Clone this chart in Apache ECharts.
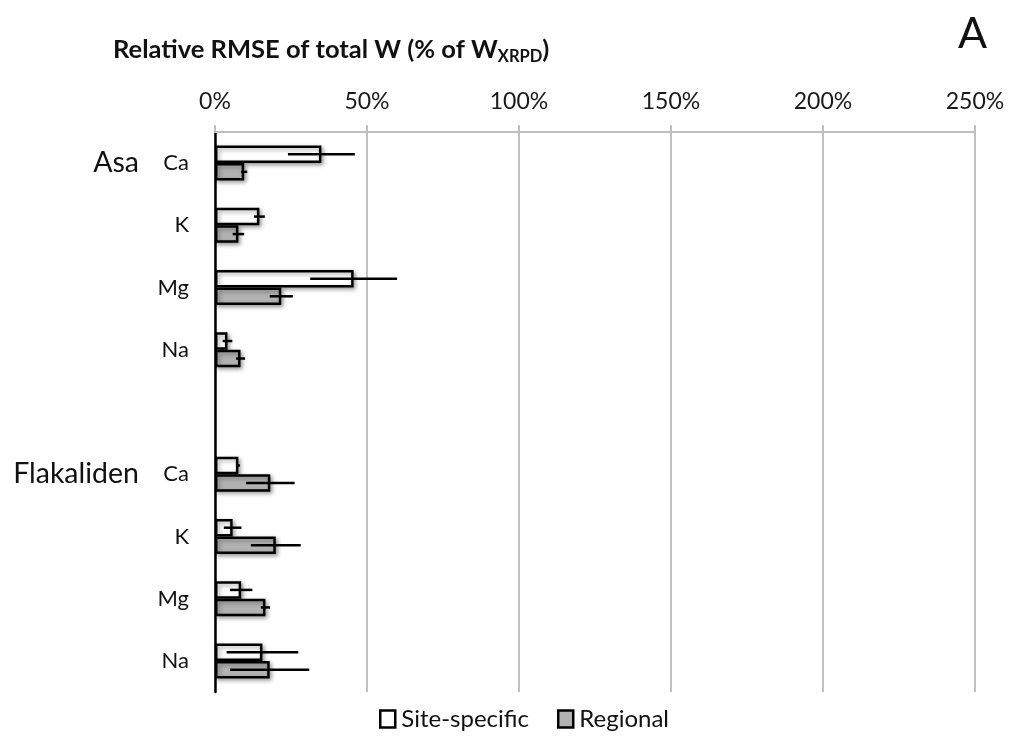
<!DOCTYPE html>
<html>
<head>
<meta charset="utf-8">
<script src="https://cdn.jsdelivr.net/npm/echarts@6/dist/echarts.min.js"></script>
<style>
html,body{margin:0;padding:0;background:#fff;}
#c{width:1009px;height:738px;}
</style>
</head>
<body>
<div id="c"></div>
<script>
// ---- data ----
var categories = ['Asa|Ca','Asa|K','Asa|Mg','Asa|Na','gap','Flakaliden|Ca','Flakaliden|K','Flakaliden|Mg','Flakaliden|Na'];
var groupStarts = ['Asa|Ca','Flakaliden|Ca'];
var siteSpecific = [35, 14.6, 45.6, 4.1, null, 7.7, 5.8, 8.6, 15.6];
var siteSpecificErr = [11, 1.8, 14.3, 1.6, null, 0.5, 2.9, 3.7, 11.8];
var regional = [9.6, 7.7, 21.8, 8.4, null, 18.2, 20, 16.6, 18];
var regionalErr = [1, 1.9, 3.8, 1.5, null, 8, 8.2, 1.5, 13];
var xTicks = [0, 50, 100, 150, 200, 250];
var seriesNames = ['Site-specific', 'Regional'];

var FONT = 'Lato, "Open Sans", sans-serif';
var BAR_W = 17.5;

function errData(vals, errs) {
  var out = [];
  for (var i = 0; i < vals.length; i++) {
    if (vals[i] == null) continue;
    out.push([i, vals[i] - errs[i], vals[i] + errs[i]]);
  }
  return out;
}

function errRender(offsetSign) {
  return function (params, api) {
    var idx = api.value(0);
    var lo = api.coord([api.value(1), idx]);
    var hi = api.coord([api.value(2), idx]);
    var dy = offsetSign * BAR_W / 2;
    return {
      type: 'line',
      shape: { x1: lo[0], y1: lo[1] + dy, x2: hi[0], y2: hi[1] + dy },
      style: { stroke: '#000', lineWidth: 2.5 },
      z2: 10
    };
  };
}

var chart = echarts.init(document.getElementById('c'), null, { renderer: 'canvas' });
var option = {
  animation: false,
  backgroundColor: '#fff',
  textStyle: { fontFamily: FONT },
  title: [{
    text: 'Relative RMSE of total W (% of W{sub|XRPD})',
    left: 108, top: 29,
    textStyle: {
      fontFamily: FONT, fontSize: 25.5, fontWeight: 'bold', color: '#111',
      rich: { sub: { fontFamily: FONT, fontSize: 16.5, fontWeight: 'bold', color: '#111', verticalAlign: 'bottom', padding: [14, 0, 0, 0] } }
    }
  }, {
    text: 'A',
    left: 953, top: 8,
    textStyle: { fontFamily: FONT, fontSize: 43, fontWeight: 'normal', color: '#111' }
  }],
  legend: {
    bottom: 2,
    left: 374,
    itemWidth: 15, itemHeight: 17, itemGap: 28,
    textStyle: { fontFamily: FONT, fontSize: 24, color: '#111', padding: [0, 0, 0, 1] },
    data: [
      { name: seriesNames[0], icon: 'rect', itemStyle: { color: '#fff', borderColor: '#000', borderWidth: 2.5 } },
      { name: seriesNames[1], icon: 'rect', itemStyle: { color: '#b2b2b2', borderColor: '#000', borderWidth: 2.5 } }
    ]
  },
  grid: { left: 215, right: 34, top: 132, bottom: 46, containLabel: false },
  xAxis: {
    type: 'value',
    position: 'top',
    min: xTicks[0], max: xTicks[xTicks.length - 1], interval: 50,
    axisLine: { show: true, lineStyle: { color: '#bfbfbf', width: 2 } },
    axisTick: { show: true, length: 7, lineStyle: { color: '#bfbfbf', width: 2 } },
    splitLine: { show: true, lineStyle: { color: '#c0c0c0', width: 2 } },
    axisLabel: { formatter: '{value}%', fontFamily: FONT, fontSize: 23, color: '#1a1a1a', margin: 19 }
  },
  yAxis: {
    type: 'category',
    inverse: true,
    data: categories,
    axisLine: { show: true, lineStyle: { color: '#000', width: 2.5 } },
    axisTick: { show: false },
    axisLabel: {
      margin: 26,
      interval: 0,
      fontFamily: FONT,
      formatter: function (v) {
        if (v === 'gap') return '';
        var parts = v.split('|');
        if (groupStarts.indexOf(v) >= 0) return '{g|' + parts[0] + '}{e|' + parts[1] + '}';
        return '{e|' + parts[1] + '}';
      },
      rich: {
        g: { fontFamily: FONT, fontSize: 28.5, color: '#111' },
        e: { fontFamily: FONT, fontSize: 22, color: '#111', width: 50, align: 'right' }
      }
    }
  },
  series: [{
    name: seriesNames[0],
    type: 'bar',
    data: siteSpecific,
    barWidth: BAR_W,
    barGap: '0%',
    itemStyle: { color: '#fff', borderColor: '#000', borderWidth: 2.5, shadowBlur: 4, shadowOffsetX: 2, shadowOffsetY: 2, shadowColor: 'rgba(0,0,0,0.35)' }
  }, {
    name: seriesNames[1],
    type: 'bar',
    data: regional,
    barWidth: BAR_W,
    barGap: '0%',
    itemStyle: { color: '#b2b2b2', borderColor: '#000', borderWidth: 2.5, shadowBlur: 4, shadowOffsetX: 2, shadowOffsetY: 2, shadowColor: 'rgba(0,0,0,0.35)' }
  }, {
    name: 'siteErr',
    type: 'custom',
    renderItem: errRender(-1),
    encode: { y: 0, x: [1, 2] },
    data: errData(siteSpecific, siteSpecificErr),
    z: 10
  }, {
    name: 'regErr',
    type: 'custom',
    renderItem: errRender(1),
    encode: { y: 0, x: [1, 2] },
    data: errData(regional, regionalErr),
    z: 10
  }]
};
chart.setOption(option);
</script>
</body>
</html>
